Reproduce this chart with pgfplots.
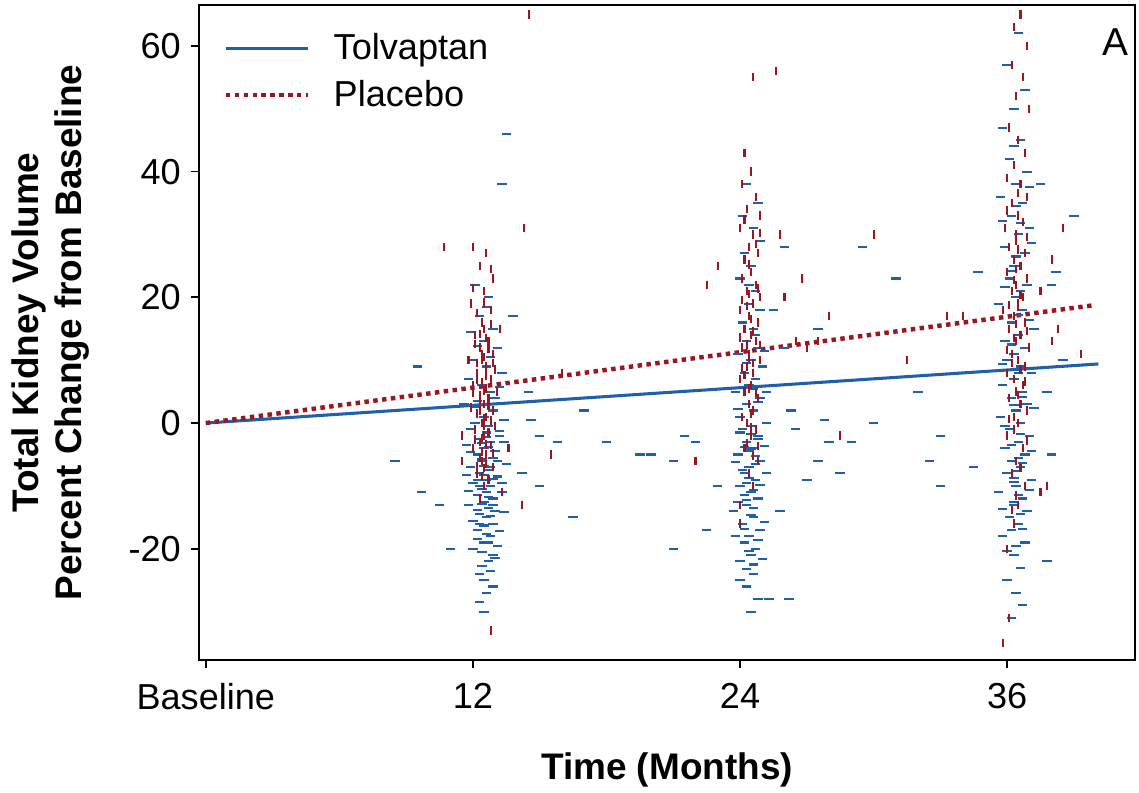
\documentclass[border=0pt]{standalone}
\usepackage{pgfplots}
\pgfplotsset{compat=1.18}
\usepackage{fontspec}
\setmainfont{Liberation Sans}
\definecolor{tblue}{RGB}{30,96,170}
\definecolor{pred}{RGB}{155,22,32}
\begin{document}
\begin{tikzpicture}
\begin{axis}[
  scale only axis, width=337pt, height=235.8pt,
  xmin=-0.31, xmax=41.75, ymin=-37.7, ymax=66.5,
  xtick={0,12,24,36}, xticklabels={Baseline,12,24,36},
  ytick={-20,0,20,40,60},
  xtick pos=bottom, ytick pos=left, tick align=outside,
  major tick length=3pt,
  tick style={black, line width=0.6pt},
  axis line style={line width=0.6pt},
  /pgf/number format/assume math mode=true,
  tick label style={font=\fontsize{13}{15}\selectfont},
  xticklabel style={yshift=-2pt},
  xlabel={\bfseries Time (Months)},
  ylabel={\bfseries Total Kidney Volume\\\bfseries Percent Change from Baseline},
  label style={font=\fontsize{13.3}{15.5}\selectfont, align=center},
  xlabel style={at={(axis description cs:0.5,-0.168)}, anchor=center},
  ylabel style={at={(axis description cs:-0.158,0.5)}, anchor=center},
  legend style={at={(0.017,0.975)}, anchor=north west, draw=none, fill=none,
    font=\fontsize{13}{15}\selectfont, row sep=2pt},
  legend image code/.code={\draw[#1] (0pt,0pt) -- (29.5pt,0pt); \path (36pt,0pt);},
  legend cell align=left,
  clip=true,
]
\coordinate (sw) at (rel axis cs:0,0);
% Tolvaptan scatter (horizontal dashes)
\addplot[only marks, mark=-, mark size=1.7pt, mark options={tblue, line width=0.75pt}, forget plot] coordinates {
(12.1,22)(12.7,20)(12.3,17)(12.9,15)(12.5,13)(13.1,12)(12.0,10)(12.6,9)(13.3,8)(11.8,7)(12.4,6)(12.8,5)(13.0,4)(12.2,3.5)(11.6,3)(12.9,2)(12.5,1)(13.4,0.5)(12.1,0)(12.7,-0.5)(11.9,-1)(12.6,-1.5)(13.2,-2)(12.3,-2.5)(12.8,-3)(11.7,-3.5)(12.5,-4)(13.0,-4.5)(12.2,-5)(12.9,-5.5)(12.4,-6)(13.5,-6.5)(11.9,-7)(12.7,-7.5)(12.3,-8)(13.1,-8.5)(12.6,-9)(12.0,-9.5)(12.8,-10)(12.4,-10.5)(13.3,-11)(12.2,-11.5)(12.9,-12)(12.5,-12.5)(11.8,-13)(12.7,-13.5)(13.0,-14)(12.3,-14.5)(12.6,-15)(12.9,-16)(12.2,-17)(12.8,-18)(12.5,-19)(13.1,-19.5)(12.4,-20.5)(12.7,-22)(12.3,-24)(12.9,-26)(12.6,-27)(12.5,-30)
(12.4,-5.8)(12.8,-7)(12.6,-11)(12.3,-16)(12.9,-21)(12.5,-8.3)(12.7,-3.8)(12.2,-13.8)
(12.5,-6.8)(12.9,-8.9)(12.3,-10)(12.7,-11.8)(12.4,-12.9)(12.8,-14.8)(12.5,-16.3)(12.2,-18.4)(12.6,-17.6)(12.9,-13)(12.4,-3.2)(12.6,-2.2)(13.1,-6)(12.2,-9.1)(12.7,-19)(12.4,-22.8)(12.8,-23.5)(12.5,-25)(12.3,-28.5)(12.6,18.5)(12.2,12.2)(12.8,10.5)
(13.2,-1.2)(11.9,-4.6)(13.3,-9.6)(11.8,-10.8)(13.4,-14.2)(12.0,-15.6)(13.2,-17.2)(12.0,-20)(13.0,-21.5)(11.7,-8.2)(13.4,-3)(12.1,2.5)(13.2,5.8)(11.9,14.5)
(13.5,46)(13.3,38)(9.5,9)(8.5,-6)(10.5,-13)(14.5,5)(15,-2)(14.2,-8)(11,-20)(13.8,17)(9.7,-11)(14.6,0.5)(15.8,-3)
(24.3,38)(24.8,35)(24.1,33)(24.6,31)(24.9,29)(24.2,27)(24.5,25)(24.0,23)(24.7,21)(24.4,19)(24.9,18)(24.1,16)(24.6,15)(24.3,13)(24.8,12)(23.9,11)(24.5,10)(25.0,9)(24.2,8)(24.7,7)(24.4,6)(23.8,5)(24.9,4)(24.3,3)(24.6,2)(24.0,1)(25.2,0)(24.5,-0.5)(24.1,-1)(24.8,-2)(24.3,-3)(24.6,-4)(23.9,-5)(24.9,-6)(24.4,-7)(24.2,-8)(24.7,-9)(24.0,-10)(24.5,-11)(24.8,-12)(24.3,-13)(23.7,-14)(24.6,-15)(24.1,-16)(24.9,-17)(24.4,-18)(24.2,-19)(24.7,-20)(24.5,-21)(24.0,-22)(24.6,-24)(24.3,-26)(24.8,-28)(24.5,-30)
(24.4,-4.5)(24.7,-6.5)(24.2,-11.5)(24.6,-13.5)(24.3,-9.5)(24.8,-2.5)
(24.5,-1.8)(24.2,-3.8)(24.7,-5.2)(24.4,-8.7)(24.6,-10.6)(24.3,-12.2)(24.5,-14.6)(24.2,-16.8)(24.8,-18.6)(24.4,-20.3)(24.6,-22.5)(24.3,-23.2)(24.5,-4.2)(24.1,-7.4)(24.9,-9.8)(24.6,5.5)(24.3,9.6)(24.7,14)(24.4,22)(24.8,3.4)
(25.1,-3.6)(23.8,-6.2)(25.2,-8)(23.9,-12.6)(25.1,-15.8)(23.8,-18)(25.0,-21.6)(24.0,-25)(25.2,5)(23.9,2.2)(25.1,11.5)(24.0,-1.5)
(22.0,-3)(21.0,-6)(26.0,12)(26.5,-1)(27.5,-6)(27,-9)(28,-3)(25.8,-14)(22.5,-17)(23,-10)(26.2,-28)(21.5,-2)(25.5,18)(26,28)(27.5,15)(26.3,2)(27.8,0.5)
(36.5,62)(36.0,57)(36.8,53)(36.3,50)(35.8,47)(36.6,45)(36.1,42)(36.9,40)(36.4,38)(35.7,36)(36.7,35)(36.2,33)(37.0,31)(36.5,30)(35.9,28)(36.8,27)(36.3,25)(36.1,23)(36.9,22)(36.4,20)(35.6,19)(36.7,18)(36.2,16)(37.2,15)(36.5,14)(35.9,13)(36.8,12)(36.3,11)(36.0,10)(36.6,9)(37.1,8)(36.3,7)(35.8,6)(36.7,5)(36.2,4)(36.9,3)(36.4,2)(35.7,1)(36.6,0)(36.1,-1)(37.0,-2)(36.5,-3)(35.9,-4)(36.8,-5)(36.2,-6)(36.6,-7)(36.0,-8)(37.1,-9)(36.4,-10)(35.6,-11)(36.7,-12)(36.3,-13)(36.9,-14)(36.1,-15)(36.5,-16)(35.8,-18)(36.8,-19)(36.3,-21)(36.6,-23)(36.0,-25)(36.4,-27)(36.7,-29)(36.2,-31)
(36.4,26.5)(36.6,21)(36.2,12.5)(36.5,-5.5)(36.3,-8.8)(36.7,4.2)
(36.5,8)(36.3,2.8)(36.6,-1.8)(36.2,-3.5)(36.7,-6.4)(36.4,-7.6)(36.5,-11.5)(36.3,-12.6)(36.6,-14.5)(36.2,-17)(36.4,-19.6)(36.7,-16.8)(36.3,-9.4)(36.5,17.2)(36.2,24.2)(36.6,31.8)(36.4,34.5)(36.3,44)
(37.0,-10.6)(35.8,-13.6)(37.1,-4.4)(35.9,-0.4)(37.2,2.4)(35.8,9.4)(37.0,16.4)(35.9,21.6)(37.1,28.6)(35.8,32.2)(37.0,37.6)(36.0,-20.4)
(38,22)(38.5,10)(37.8,5)(38,-5)(34.5,-7)(37.5,38)(38.2,24)(39,33)(33,-10)(34.7,24)(37.8,-22)
(29.5,28)(31,23)(32,5)(30,0)(29,-3)(33,-2)(32.5,-6)(28.5,-8)(17,2)(18,-3)(19.5,-5)(20,-5)(15,-10)(16.5,-15)(21,-20)(25.3,-28)
};
% Placebo scatter (vertical dashes)
\addplot[only marks, mark=|, mark size=1.5pt, mark options={pred, line width=0.75pt}, forget plot] coordinates {
(12.0,28)(12.6,27)(12.3,25)(12.9,23)(12.5,21)(11.9,19)(12.8,18)(12.4,16)(13.2,15)(12.1,14)(12.7,13)(12.3,12)(12.9,11)(12.5,10.5)(11.8,10)(12.6,9)(13.0,8.5)(12.2,8)(12.8,7)(12.4,6.5)(12.0,6)(12.6,5.5)(13.1,5)(12.3,4.5)(12.7,4)(12.5,3)(11.9,2.5)(12.9,2)(12.2,1.5)(12.6,1)(12.4,0)(13.0,-0.5)(12.1,-1)(12.7,-1.5)(12.5,-2)(12.3,-3)(12.8,-3.5)(12.0,-4)(12.6,-5)(12.4,-6)(12.9,-7)(12.2,-8)(12.7,-9)(12.5,-10)(13.3,-11)(12.3,-12)(14.2,-13)(11.5,-6)(13.6,-4)
(12.4,11)(12.6,7.5)(12.3,3.5)(12.5,-0.5)(12.7,2.8)(12.4,-4.5)(12.2,9.5)(12.6,13.5)
(12.5,15)(12.3,14.2)(12.7,11.8)(12.4,10)(12.6,8.2)(12.2,6.8)(12.5,5.2)(12.7,3.6)(12.3,2)(12.5,0.8)(12.4,-2.4)(12.6,-3.4)(12.3,-5.6)(12.5,-7.2)(12.4,-8.4)(12.6,-6.5)(12.2,17.5)(12.5,19.2)
(12.1,12.6)(12.9,9.6)(12.0,4.8)(12.8,0.4)(12.1,-2.6)(12.9,-4.8)(12.2,-6.8)(12.8,15.8)(12.0,21.5)(12.8,24.5)
(14.5,65)(14.3,31)(11.5,-2)(16,8)(15.5,-5)(12.8,-33)(10.7,28)
(24.6,55)(24.2,43)(24.5,40)(24.1,38)(24.7,36)(24.3,34)(24.9,33)(24.0,31)(24.6,30)(24.4,28)(24.8,27)(24.2,26)(24.5,24)(24.1,23)(24.7,22)(24.3,21)(24.9,20)(24.6,19)(24.0,18)(24.4,17)(24.8,16)(24.2,15)(24.5,14)(24.7,13)(24.1,12)(24.4,11)(24.9,10)(24.3,9)(24.6,8)(24.0,7)(24.5,6)(24.2,5)(24.8,4)(24.4,3)(24.6,2)(24.1,1)(24.3,0)(24.7,-1)(24.5,-2)(24.2,-4)(24.8,-6)(24.4,-8)(24.6,-10)(24.0,-13)
(24.4,20.5)(24.5,16.5)(24.3,12.5)(24.6,9.5)(24.4,5.5)(24.5,1.5)
(24.3,18.6)(24.6,14.6)(24.4,10.4)(24.2,7.6)(24.7,4.8)(24.5,-0.6)(24.3,-3.2)(24.6,-5.2)(24.4,25.2)(24.7,28.5)
(24.1,19.6)(24.8,21.4)(24.0,13.6)(24.9,12.4)(24.1,8.8)(24.8,-3.6)(24.2,32.4)(24.9,30.2)
(25.6,56)(26.5,13)(27,12)(27.5,13)(28,17)(26,20)(23,25)(22.5,22)(28.5,-2)(22,-6)(25.8,30)(26.8,23)(24,-16)(30,30)(33.3,17)(31.5,10)
(36.6,65)(36.3,63)(36.9,60)(36.2,57)(36.7,55)(36.4,52)(37.0,50)(36.1,47)(36.5,45)(36.8,43)(36.3,41)(36.0,39)(36.6,38)(36.9,36)(36.2,35)(36.5,33)(36.7,32)(35.9,31)(36.4,30)(36.1,28)(36.8,27)(36.3,26)(36.6,25)(36.0,24)(36.9,23)(36.4,22)(36.2,21)(36.7,20)(36.5,19)(35.8,18)(36.3,17)(36.8,16)(36.1,15)(36.6,14)(36.4,13)(37.0,12)(36.2,11)(36.5,10)(36.8,9)(36.0,8)(36.3,7)(36.7,6)(36.4,5)(36.1,4)(36.6,3)(36.9,2)(36.3,1)(36.5,0)(36.0,-2)(36.7,-4)(36.4,-6)(36.2,-8)(36.8,-10)(36.5,-13)(36.3,-16)(36.0,-20)(35.8,-35)(36.1,-31)
(36.4,24.5)(36.5,18.5)(36.3,13.5)(36.6,8.5)(36.4,29)
(36.5,27.6)(36.3,22.8)(36.6,20.4)(36.4,15.8)(36.2,9.6)(36.5,4.5)(36.3,-1)(36.6,-7.2)(36.4,-11.5)(36.5,36.6)
(36.0,33.8)(36.9,29.6)(36.1,18.8)(36.9,14.6)(36.0,11.6)(36.8,6.6)(36.1,0.6)(36.9,-2.8)(36.2,-13.8)
(38.5,31)(38,26)(37.5,-11)(38.3,15)(37.5,21)(39.3,11)(38,13)(34,17)(37.8,-10)
};
% Mean lines
\addplot[tblue, line width=1.1pt] coordinates {(0,0)(40.1,9.4)};
\addlegendentry{Tolvaptan}
\addplot[pred, line width=1.6pt, dash pattern=on 1.6pt off 1.6pt] coordinates {(0,0)(39.8,18.7)};
\addlegendentry{Placebo}
\node[font=\fontsize{14}{16}\selectfont] at (rel axis cs:0.979,0.943) {A};
\end{axis}
\pgfresetboundingbox
\path (sw) ++(-71.6pt,-47.5pt) rectangle ++(410pt,285.1pt);
\end{tikzpicture}
\end{document}
